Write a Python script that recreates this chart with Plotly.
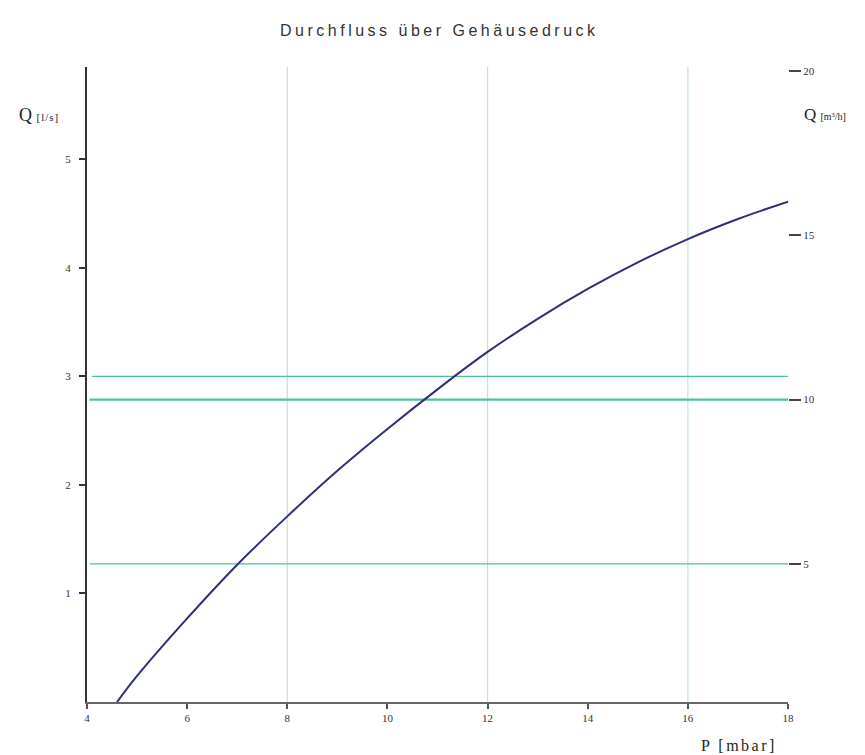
import plotly.graph_objects as go

# Flow rate Q [l/s] over housing pressure P [mbar]
pressure = [4.6, 5, 6, 7, 8, 9, 10, 11, 12, 13, 14, 15, 16, 17, 18]
flow_ls = [0.0, 0.24, 0.77, 1.265, 1.71, 2.13, 2.515, 2.88, 3.225, 3.53, 3.805, 4.05, 4.265, 4.45, 4.61]

x_ticks = [4, 6, 8, 10, 12, 14, 16, 18]
y_left_ticks = [1, 2, 3, 4, 5]
y_right_ticks = [5, 10, 15, 20]
x_grid = [8, 12, 16]
ref_left = [3]          # reference level on the l/s scale
ref_right = [10, 5]     # reference levels on the m³/h scale
ref_right_width = [2.2, 1.2]

GREEN = "#4cc09a"
GREEN_LIGHT = "#c4e3d6"
SERIF = "Liberation Serif"


def spaced(text, px):
    return f"<span style='letter-spacing:{px}px'>{text}</span>"


fig = go.Figure()

fig.add_trace(go.Scatter(
    x=pressure, y=flow_ls, mode="lines",
    line=dict(color="#2f2f78", width=2, shape="spline", smoothing=1.0),
    showlegend=False, hoverinfo="skip",
))
# invisible trace so the secondary axis is drawn
fig.add_trace(go.Scatter(x=[pressure[0]], y=[None], yaxis="y2",
                         showlegend=False, hoverinfo="skip"))

shapes = []
for xv in x_grid:
    shapes.append(dict(type="line", xref="x", yref="paper", x0=xv, x1=xv, y0=0, y1=1,
                       line=dict(color=GREEN_LIGHT, width=1.2), layer="below"))
for yv in ref_left:
    shapes.append(dict(type="line", xref="x", yref="y", x0=4.1, x1=18, y0=yv, y1=yv,
                       line=dict(color=GREEN, width=1.2), layer="below"))
for yv, w in zip(ref_right, ref_right_width):
    shapes.append(dict(type="line", xref="x", yref="y2", x0=4.05, x1=18, y0=yv, y1=yv,
                       line=dict(color=GREEN, width=w), layer="below"))

fig.update_layout(
    width=865, height=755,
    margin=dict(l=87, r=77, t=67, b=53),
    paper_bgcolor="white", plot_bgcolor="white",
    shapes=shapes,
    xaxis=dict(range=[4, 18], tickvals=x_ticks,
               ticks="outside", ticklen=5, tickwidth=1.5,
               tickcolor="#555", showgrid=False, zeroline=False, showline=True,
               linecolor="#666", linewidth=1.5,
               tickfont=dict(family=SERIF, size=11, color="#333")),
    yaxis=dict(range=[0, 5.85], tickvals=y_left_ticks, ticks="outside", ticklen=6, tickwidth=2,
               ticklabelstandoff=6,
               tickcolor="#333", showgrid=False, zeroline=False, showline=True,
               linecolor="#333", linewidth=2.2,
               tickfont=dict(family=SERIF, size=11, color="#333")),
    yaxis2=dict(range=[0.8, 20.12], overlaying="y", side="right", anchor="x",
                tickvals=y_right_ticks, ticks="outside", ticklen=12, tickwidth=1.5,
                tickcolor="#444", showgrid=False, zeroline=False, showline=False,
                tickfont=dict(family=SERIF, size=11, color="#333")),
    annotations=[
        dict(text=spaced("Durchfluss über Gehäusedruck", 3.5), xref="paper", yref="paper",
             x=0.503, y=1, yshift=37, xanchor="center", yanchor="middle", showarrow=False,
             font=dict(family="Liberation Sans", size=16, color="#333")),
        dict(text="Q <span style='font-size:11px;letter-spacing:1px'>[l/s]</span>",
             xref="paper", yref="paper",
             x=-0.1, y=0.925, xanchor="left", yanchor="middle", showarrow=False,
             font=dict(family=SERIF, size=18, color="#222")),
        dict(text="Q <span style='font-size:10px'>[m³/h]</span>", xref="paper", yref="paper",
             x=1.0, xshift=14, y=0.925, xanchor="left", yanchor="middle", showarrow=False,
             font=dict(family=SERIF, size=17, color="#222")),
        dict(text=spaced("P [mbar]", 2.5), xref="paper", yref="paper",
             x=0.93, y=0, yshift=-43, xanchor="center", yanchor="middle", showarrow=False,
             font=dict(family=SERIF, size=16, color="#222")),
    ],
)

fig.write_html("out.html")
